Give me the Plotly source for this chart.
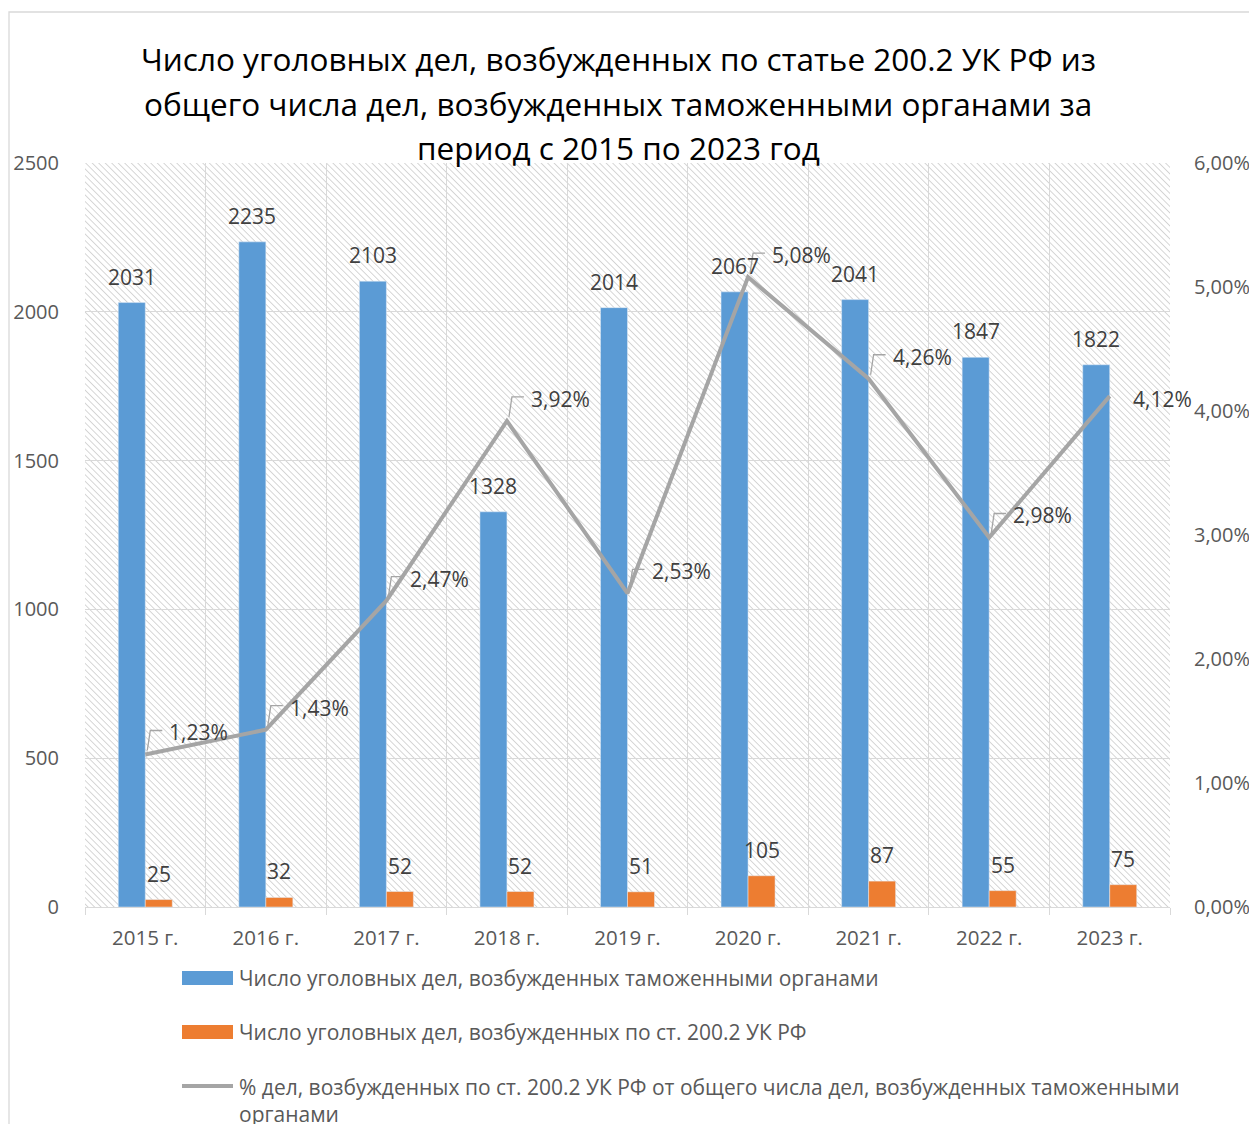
import base64
import plotly.graph_objects as go

# ---------------- data ----------------
years = ["2015 г.", "2016 г.", "2017 г.", "2018 г.", "2019 г.",
         "2020 г.", "2021 г.", "2022 г.", "2023 г."]
total_cases = [2031, 2235, 2103, 1328, 2014, 2067, 2041, 1847, 1822]
art_cases = [25, 32, 52, 52, 51, 105, 87, 55, 75]
share_pct = [1.23, 1.43, 2.47, 3.92, 2.53, 5.08, 4.26, 2.98, 4.12]

left_ticks = [0, 500, 1000, 1500, 2000, 2500]
right_ticks = [0, 1, 2, 3, 4, 5, 6]

title_lines = ["Число уголовных дел, возбужденных по статье 200.2 УК РФ из",
               "общего числа дел, возбужденных таможенными органами за",
               "период с 2015 по 2023 год"]
name_total = "Число уголовных дел, возбужденных таможенными органами"
name_art = "Число уголовных дел, возбужденных по ст. 200.2 УК РФ"
name_share = ("% дел, возбужденных по ст. 200.2 УК РФ от общего числа дел, возбужденных таможенными"
              "<br>органами")

# ---------------- style ----------------
BLUE = "#5b9bd5"
ORANGE = "#ed7d31"
GRAY = "#a5a5a5"
GRID = "#d9d9d9"
TXT = "#595959"
LBL = "#404040"
FONT = "Open Sans"

OFF = 8  # page body margin
W, H = 1249, 1116
PW, PH = 1085, 744
ML, MT = 85 - OFF, 163 - OFF
MR, MB = W - ML - PW, H - MT - PH


def px(xpix):
    return (xpix - OFF - ML) / PW


def py(ypix):
    return (MT + PH - (ypix - OFF)) / PH


def fmt_pct(v):
    return f"{v:.2f}".replace(".", ",") + "%"


fig = go.Figure()
fig.add_trace(go.Bar(x=years, y=total_cases, name=name_total, marker_color=BLUE,
                     showlegend=False))
fig.add_trace(go.Bar(x=years, y=art_cases, name=name_art, marker_color=ORANGE,
                     showlegend=False))
fig.add_trace(go.Scatter(x=years, y=share_pct, name="share", mode="lines",
                         line=dict(color=GRAY, width=4), yaxis="y2", showlegend=False))

annotations = []
shapes = []

# bar labels
for yr, v in zip(years, total_cases):
    annotations.append(dict(x=yr, y=v, xref="x", yref="y", text=str(v), showarrow=False,
                            xshift=-13.5, yshift=10, yanchor="bottom",
                            font=dict(family=FONT, size=21, color=LBL)))
for yr, v in zip(years, art_cases):
    annotations.append(dict(x=yr, y=v, xref="x", yref="y", text=str(v), showarrow=False,
                            xshift=13.5, yshift=10, yanchor="bottom",
                            font=dict(family=FONT, size=21, color=LBL)))

# percent labels with leader lines
for i, (yr, v) in enumerate(zip(years, share_pct)):
    last = i == len(years) - 1
    annotations.append(dict(x=yr, y=v, xref="x", yref="y2", text=fmt_pct(v), showarrow=False,
                            xanchor="left", xshift=21 if last else 22,
                            yshift=-3 if last else 22,
                            font=dict(family=FONT, size=21, color=LBL)))
    if not last:
        shapes.append(dict(type="path", xref="x", yref="y2", xsizemode="pixel",
                           ysizemode="pixel", xanchor=yr, yanchor=v,
                           path="M2,4 L5,24 L17,24", line=dict(color=GRAY, width=1.3)))

# title (three centred lines)
for k, t in enumerate(title_lines):
    annotations.append(dict(x=px(618), y=py(58 + 45 * k), xref="paper", yref="paper",
                            text=t, showarrow=False, xanchor="center", yanchor="middle",
                            font=dict(family=FONT, size=31.5, color="#000000")))

# custom legend
leg_items = [(name_total, "bar", BLUE, 978), (name_art, "bar", ORANGE, 1032),
             (name_share, "line", GRAY, 1086)]
for name, kind, col, yc in leg_items:
    if kind == "bar":
        shapes.append(dict(type="rect", xref="paper", yref="paper", x0=px(182), x1=px(233),
                           y0=py(yc - 7), y1=py(yc + 7), fillcolor=col, line=dict(width=0)))
    else:
        shapes.append(dict(type="line", xref="paper", yref="paper", x0=px(182), x1=px(233),
                           y0=py(yc), y1=py(yc), line=dict(color=col, width=4)))
    annotations.append(dict(x=px(237), y=py(yc), xref="paper", yref="paper", text=name,
                            showarrow=False, xanchor="left",
                            yanchor="top" if "<br>" in name else "middle",
                            yshift=15 if "<br>" in name else 0, align="left",
                            font=dict(family=FONT, size=21, color=TXT)))

# chart border
shapes.append(dict(type="rect", xref="paper", yref="paper", x0=px(9), x1=px(1254),
                   y0=py(1140), y1=py(12), line=dict(color=GRID, width=1.3),
                   fillcolor="rgba(0,0,0,0)", layer="below"))

# hatched plot-area background
svg = (f'<svg xmlns="http://www.w3.org/2000/svg" width="{PW}" height="{PH}" '
       f'viewBox="0 0 {PW} {PH}" preserveAspectRatio="none"><defs>'
       '<pattern id="p" width="4.6" height="4.6" patternUnits="userSpaceOnUse" '
       'patternTransform="rotate(-45)"><line x1="0" y1="0" x2="0" y2="4.6" '
       'stroke="#cccccc" stroke-width="1.6"/></pattern></defs>'
       '<rect width="100%" height="100%" fill="url(#p)"/></svg>')
src = "data:image/svg+xml;base64," + base64.b64encode(svg.encode()).decode()

fig.update_layout(
    width=W, height=H,
    margin=dict(l=ML, r=MR, t=MT, b=MB, pad=0, autoexpand=False),
    paper_bgcolor="white", plot_bgcolor="rgba(0,0,0,0)",
    barmode="group", bargap=0.552, bargroupgap=0,
    font=dict(family=FONT, size=20, color=TXT),
    showlegend=False,
    images=[dict(source=src, xref="paper", yref="paper", x=0, y=1, sizex=1, sizey=1,
                 xanchor="left", yanchor="top", sizing="stretch", layer="below")],
    xaxis=dict(range=[-0.5, len(years) - 0.5], autorange=False, automargin=False,
               showline=True, linecolor=GRID, linewidth=1.3, ticks="outside",
               tickson="boundaries", ticklen=7, tickcolor=GRID, tickwidth=1.3,
               showgrid=True, gridcolor=GRID, gridwidth=1.3,
               tickfont=dict(family=FONT, size=20.5, color=TXT), ticklabelstandoff=12),
    yaxis=dict(range=[0, 2500], tickvals=left_ticks, showgrid=True, gridcolor=GRID,
               gridwidth=1.3, zeroline=False, showline=False, automargin=False,
               tickfont=dict(family=FONT, size=20, color=TXT), ticklabelstandoff=25),
    yaxis2=dict(range=[0, 6], overlaying="y", side="right", tickvals=right_ticks,
                ticktext=[fmt_pct(t) for t in right_ticks], showgrid=False,
                zeroline=False, showline=False, automargin=False,
                tickfont=dict(family=FONT, size=20, color=TXT), ticklabelstandoff=23),
    annotations=annotations,
    shapes=shapes,
)

fig.write_html("out.html")
